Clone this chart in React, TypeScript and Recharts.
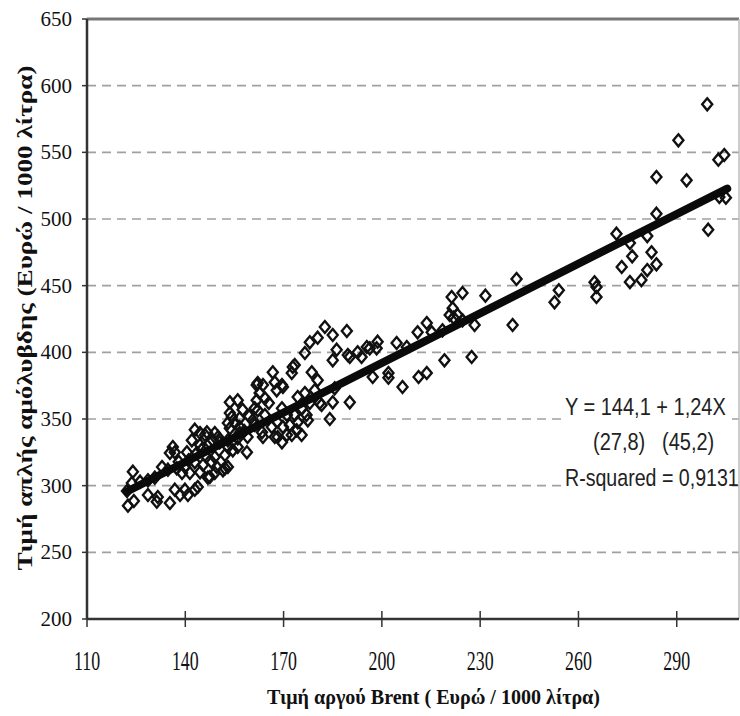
import { ScatterChart, Scatter, XAxis, YAxis, CartesianGrid, ReferenceLine } from "recharts";

// Brent price (x) vs unleaded retail price (y), euro / 1000 litres
const observations: [number, number][] = [
  [122.2, 296], [124, 310.5], [122.5, 285], [124.3, 288.5], [123.7, 302], [126.2, 303], [128.6, 304],
  [130.7, 306], [128.6, 293], [131.6, 291.5], [131.3, 288], [132.9, 314], [134.7, 312], [135.3, 287],
  [136.8, 297], [135.3, 324.5], [136.2, 329], [136.8, 325],
  [137.4, 313], [138.4, 293], [139.9, 314], [139, 309.5], [139.9, 297], [140.8, 293], [141.4, 309.5],
  [140.5, 325], [142, 334], [142.9, 342], [142.9, 317.5], [142.9, 297], [143.5, 324.5], [143.8, 299],
  [144.5, 310], [144.5, 330.5], [144.5, 339.5], [145.4, 315.5], [146, 338], [146, 323], [146.6, 340],
  [146.9, 306], [147.5, 306.5], [147.5, 332], [148.1, 317.5], [148.4, 334], [149, 339.5], [149, 321.5],
  [149, 309.5], [149.6, 314], [150, 336.5], [150.5, 332.5], [145, 327], [141, 319], [138, 318],
  [151.5, 311.5], [152.1, 323], [152.1, 313], [153, 314], [153, 334], [153, 347], [153.6, 343],
  [153.6, 354.5], [153.6, 362.5], [154.2, 351.5], [154.5, 326.5], [155.1, 347], [156, 335.5], [156, 364],
  [156.6, 344], [156.6, 350.5], [156.6, 339.5], [158.8, 325], [159, 336.5], [160.6, 349], [161.2, 345.5],
  [161.2, 358], [161.8, 364], [161.8, 375.5], [162.1, 377], [162.1, 356.5], [162.7, 369.5], [163.4, 340],
  [163.7, 336.5], [163.7, 375.5], [164.3, 365.5], [164.3, 353], [153, 329], [156, 329], [158, 341],
  [159.5, 352], [157.5, 357],
  [166.4, 344], [166.7, 385], [167.3, 377.5], [167.3, 336.5], [167.9, 371.5], [168.2, 336.5], [169.5, 375.5],
  [169.5, 358], [169.5, 332.5], [169.8, 344], [169.8, 374], [171, 353], [171, 338], [171.9, 345.5],
  [172.5, 384.5], [172.5, 338], [172.8, 389], [173.4, 390.5], [173.4, 353], [174, 341.5], [174.3, 366.5],
  [174.3, 347.5], [175.5, 338], [176.5, 369.5], [176.5, 399.5], [177, 353], [177.4, 349], [178, 407.5],
  [178.6, 385], [179.5, 371.5], [165.5, 362], [168, 348], [175.5, 358], [178, 362],
  [180.4, 379], [180.4, 411], [181, 362], [181.6, 360.5], [182.6, 419], [184.1, 350], [185, 362.5],
  [185, 413], [185.6, 373], [185, 394], [186.2, 402], [189.3, 416], [189.6, 398], [190.2, 362.5],
  [190.2, 396.5], [192.6, 400], [193.8, 396.5], [195.4, 404],
  [196.3, 403], [197.2, 381.5], [198.4, 403], [198.7, 408], [202, 384.5], [202, 381], [204.5, 407],
  [206.3, 374], [207.6, 404], [210.9, 415], [211.2, 381.5], [213.7, 384.5], [213.7, 422], [215.2, 415],
  [218.5, 416.5], [219.1, 394], [220.7, 428], [221.6, 433], [221.9, 426], [221.3, 441.5], [223.1, 428],
  [224.6, 424], [224.6, 444.5], [227.4, 396.5], [228.3, 420.5], [231.6, 442.5], [239.9, 420.5], [241.1, 455],
  [252.7, 437.5], [254, 446.5], [264.9, 452.5], [265.5, 449], [265.5, 441.5], [271.6, 489], [273.2, 464],
  [275.7, 482], [276.4, 472], [275.7, 452.7], [279.2, 454.2], [281, 461.7], [281, 487.2], [282.3, 475],
  [283.8, 466], [283.8, 504], [283.8, 531.5], [290.5, 559], [293, 529], [299.3, 586], [299.6, 492],
  [302.7, 544.5], [304.5, 548], [303, 516.5], [305, 516],
];

const xTicks = [110, 140, 170, 200, 230, 260, 290];
const yTicks = [200, 250, 300, 350, 400, 450, 500, 550, 600, 650];

// Y = 144,1 + 1,24X
const intercept = 144.1;
const slope = 1.24;
const fitRange = [122.2, 305.4];
const equationText = "Y = 144,1 + 1,24X";
const tStats = ["(27,8)", "(45,2)"];
const rSquaredText = "R-squared = 0,9131";

const points = observations.map(([x, y]) => ({ x, y }));
const fitLine = fitRange.map((x) => ({ x, y: intercept + slope * x }));

const Diamond = (props: any) => {
  const { cx, cy } = props;
  if (cx == null || cy == null) return <g />;
  return (
    <path
      d={`M${cx},${cy - 6}L${cx + 5},${cy}L${cx},${cy + 6}L${cx - 5},${cy}Z`}
      fill="none"
      stroke="#111"
      strokeWidth={2.4}
    />
  );
};

const XTick = ({ x, y, payload }: any) => (
  <g>
    <line x1={x} x2={x} y1={y - 16} y2={y} stroke="#333" strokeWidth={1.5} />
    <text
      transform={`translate(${x},${y + 43}) scale(0.85,1.3)`}
      textAnchor="middle"
      fontSize={21}
      fontFamily="Liberation Serif"
      fill="#111"
    >
      {payload.value}
    </text>
  </g>
);

const YTick = ({ x, y, payload }: any) => (
  <text x={x} y={y + 7} textAnchor="end" fontSize={21} fontFamily="Liberation Serif" fill="#111">
    {payload.value}
  </text>
);

export default function App() {
  return (
    <div style={{ position: "absolute", left: 0, top: 0, width: 740, height: 716, background: "#fff" }}>
      <ScatterChart width={740} height={716} margin={{ top: 19, right: 1, bottom: 0, left: 0 }}>
        <CartesianGrid vertical={false} stroke="#a0a0a0" strokeWidth={1.6} strokeDasharray="9 6" />
        <XAxis
          type="number"
          dataKey="x"
          domain={[110, 309]}
          ticks={xTicks}
          allowDataOverflow
          height={97}
          tickSize={8}
          tickMargin={0}
          tickLine={false}
          tick={<XTick />}
          axisLine={{ stroke: "#333", strokeWidth: 2.5 }}
        />
        <YAxis
          type="number"
          dataKey="y"
          domain={[200, 650]}
          ticks={yTicks}
          allowDataOverflow
          width={87}
          tickSize={5}
          tickMargin={10}
          tickLine={{ stroke: "#333", strokeWidth: 1.5 }}
          tick={<YTick />}
          axisLine={{ stroke: "#333", strokeWidth: 2.5 }}
        />
        <ReferenceLine y={650} stroke="#777" strokeWidth={3} />
        <ReferenceLine x={309} stroke="#bbb" strokeWidth={1.5} />
        <Scatter data={points} shape={<Diamond />} isAnimationActive={false} />
        <Scatter
          data={fitLine}
          fill="#0a0a0a"
          line={{ strokeWidth: 8, strokeLinecap: "round" }}
          shape={() => <g />}
          isAnimationActive={false}
        />
      </ScatterChart>
      <svg width={740} height={716} style={{ position: "absolute", left: 0, top: 0, pointerEvents: "none" }}>
        <text
          transform="translate(32,318) rotate(-90)"
          textAnchor="middle"
          fontSize={21}
          fontWeight="bold"
          fontFamily="Liberation Serif"
          fill="#111"
          textLength={505}
          lengthAdjust="spacingAndGlyphs"
        >
          Τιμή απλής αμόλυβδης (Ευρώ / 1000 λίτρα)
        </text>
        <text
          x={267}
          y={704}
          fontSize={20}
          fontWeight="bold"
          fontFamily="Liberation Serif"
          fill="#111"
          textLength={333}
          lengthAdjust="spacingAndGlyphs"
        >
          Τιμή αργού Brent ( Ευρώ / 1000 λίτρα)
        </text>
        <rect x={562} y={392} width={169} height={96} fill="#fff" />
        <g fontFamily="Liberation Sans" fontSize={20} fill="#222">
          <text transform="translate(565,415) scale(1,1.22)">{equationText}</text>
          <text transform="translate(593,450) scale(1,1.22)">{tStats[0]}</text>
          <text transform="translate(662,450) scale(1,1.22)">{tStats[1]}</text>
          <text transform="translate(565,486) scale(0.98,1.22)">{rSquaredText}</text>
        </g>
      </svg>
    </div>
  );
}
